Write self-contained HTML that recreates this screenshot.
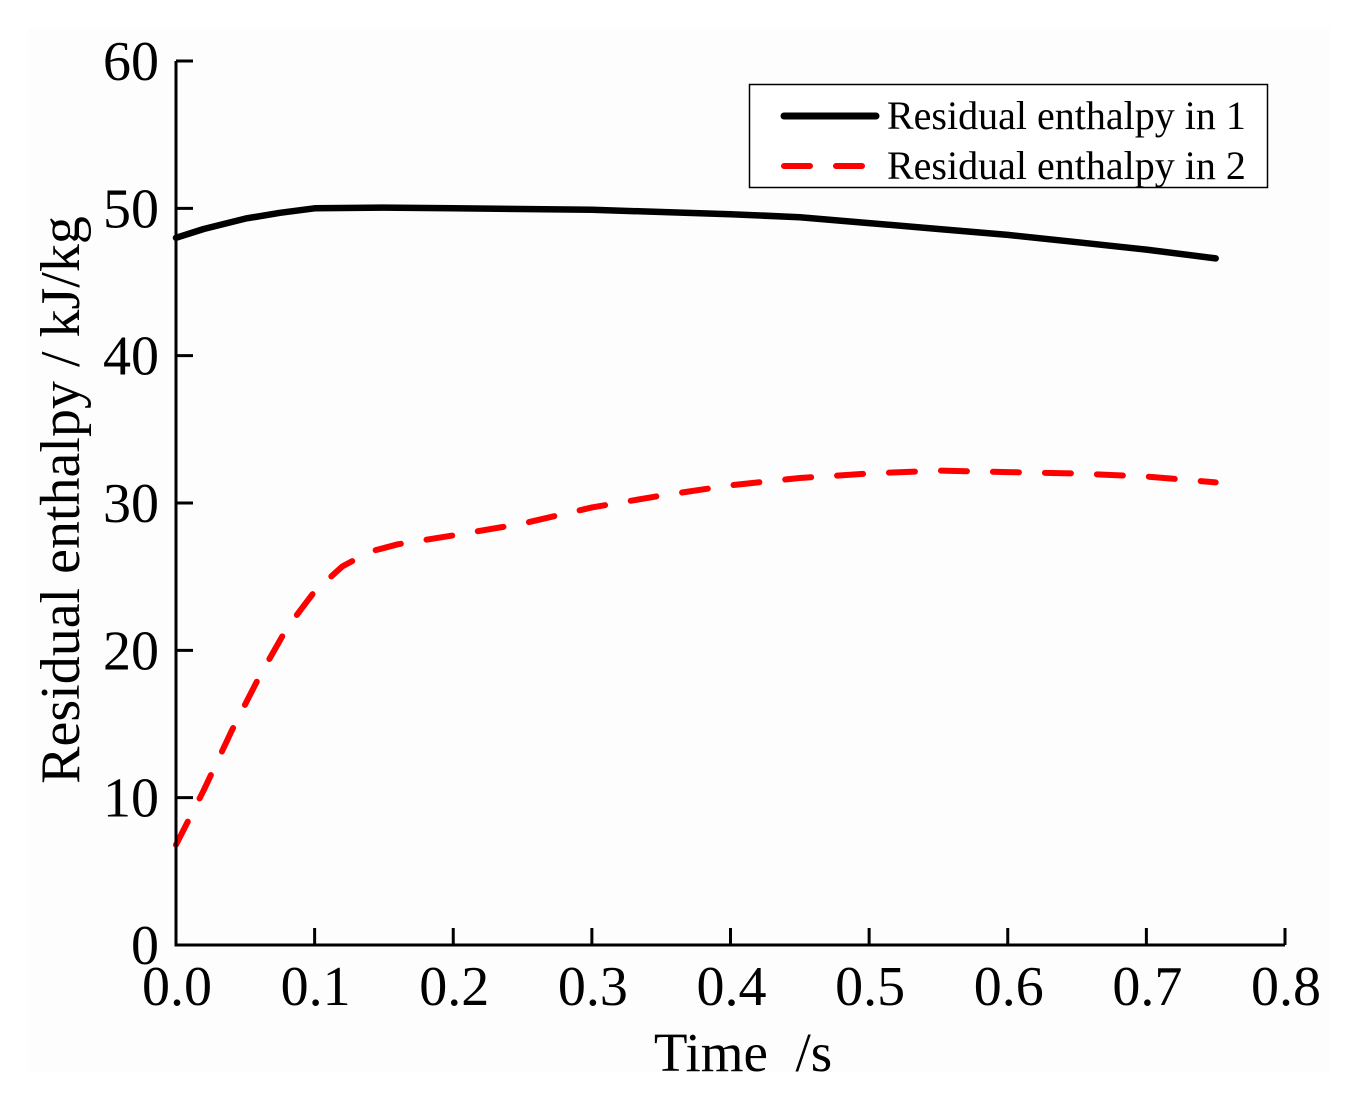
<!DOCTYPE html>
<html><head><meta charset="utf-8"><style>
html,body{margin:0;padding:0;background:#fff;}
svg{display:block;font-family:"Liberation Serif",serif;}
</style></head><body>
<svg id="chart" width="1358" height="1103" xmlns="http://www.w3.org/2000/svg">
<rect x="0" y="0" width="1358" height="1103" fill="#fff"/>
<rect x="28" y="28" width="1302" height="1044" fill="#fdfdfd"/>
<g id="series"></g>
<g id="axes"></g>
<g id="legend">
<rect x="749.5" y="84.5" width="518" height="103" fill="#fff" stroke="#000" stroke-width="1.5"/>
<line x1="784" y1="116" x2="876" y2="116" stroke="#000" stroke-width="7" stroke-linecap="round"/>
<text x="887" y="129" font-size="40">Residual enthalpy in 1</text>
<line x1="784" y1="166" x2="864" y2="166" stroke="#f00" stroke-width="6" stroke-dasharray="26,26" stroke-linecap="round"/>
<text x="887" y="179" font-size="40">Residual enthalpy in 2</text>
</g>
<text x="743" y="1071" font-size="55" text-anchor="middle" xml:space="preserve">Time  /s</text>
<text transform="translate(79,500) rotate(-90)" font-size="56" text-anchor="middle">Residual enthalpy / kJ/kg</text>
</svg>
<script>
const xTicks = [0,0.1,0.2,0.3,0.4,0.5,0.6,0.7,0.8];
const xTickLabels = ["0.0","0.1","0.2","0.3","0.4","0.5","0.6","0.7","0.8"];
const yTicks = [0,10,20,30,40,50,60];
const yTickLabels = ["0","10","20","30","40","50","60"];
const time1 = [0,0.02,0.05,0.075,0.1,0.15,0.2,0.3,0.4,0.45,0.5,0.55,0.6,0.65,0.7,0.75];
const enthalpy1 = [48.0,48.6,49.3,49.7,50.0,50.05,50.0,49.9,49.6,49.4,49.0,48.6,48.2,47.7,47.2,46.6];
const time2 = [0,0.02,0.04,0.06,0.08,0.1,0.12,0.14,0.16,0.2,0.25,0.3,0.35,0.4,0.45,0.5,0.55,0.6,0.65,0.7,0.75];
const enthalpy2 = [6.8,10.5,14.5,18.2,21.5,24.0,25.7,26.7,27.2,27.8,28.6,29.7,30.5,31.2,31.7,32.0,32.2,32.1,32.0,31.8,31.4];

const NS="http://www.w3.org/2000/svg";
const X0=176,X1=1285,Y0=945,Y1=61;
function sx(v){return X0+(v-0)/(0.8-0)*(X1-X0);}
function sy(v){return Y0-(v-0)/(60-0)*(Y0-Y1);}
function mk(tag,attrs,parent){const e=document.createElementNS(NS,tag);for(const k in attrs)e.setAttribute(k,attrs[k]);parent.appendChild(e);return e;}
const axes=document.getElementById('axes');
const series=document.getElementById('series');

const xa=mk('line',{x1:X0,y1:Y0,x2:X1,y2:Y0,stroke:'#000','stroke-width':3},axes);


const ya=mk('line',{x1:X0,y1:Y0+1.5,x2:X0,y2:Y1,stroke:'#000','stroke-width':3},axes);



xTicks.forEach((v,i)=>{
  const t=mk('line',{x1:sx(v),y1:Y0,x2:sx(v),y2:Y0-17,stroke:'#000','stroke-width':3},axes);
  
  
  const l=mk('text',{x:sx(v)+1,y:1005,'font-size':56,'text-anchor':'middle'},axes);
  l.textContent=xTickLabels[i];
  
  
});
yTicks.forEach((v,i)=>{
  const t=mk('line',{x1:X0,y1:sy(v),x2:X0+17,y2:sy(v),stroke:'#000','stroke-width':3},axes);
  
  
  const l=mk('text',{x:159,y:sy(v)+19,'font-size':56,'text-anchor':'end'},axes);
  l.textContent=yTickLabels[i];
  
  
});

function path(xs,ys){return xs.map((x,i)=>(i?'L':'M')+sx(x).toFixed(1)+','+sy(ys[i]).toFixed(1)).join(' ');}
const p1=mk('path',{d:path(time1,enthalpy1),fill:'none',stroke:'#000','stroke-width':6.5,'stroke-linejoin':'round','stroke-linecap':'round'},series);


const p2=mk('path',{d:path(time2,enthalpy2),fill:'none',stroke:'#f00','stroke-width':6,'stroke-dasharray':'26,26','stroke-linejoin':'round','stroke-linecap':'round'},series);


</script>
</body></html>
